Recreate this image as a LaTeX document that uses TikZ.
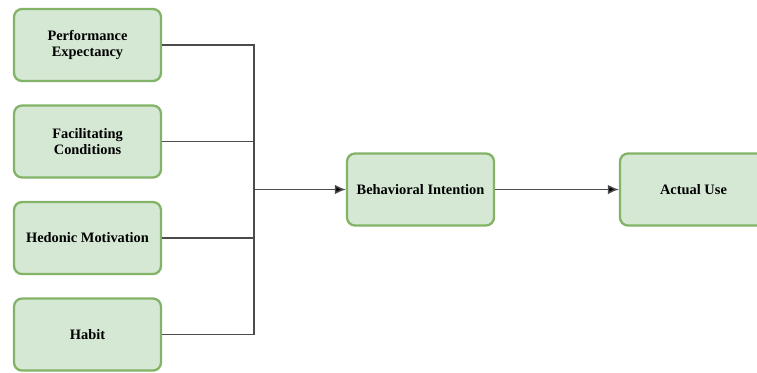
\documentclass[tikz,border=0pt]{standalone}
\usepackage{fontspec}
\setmainfont{Liberation Serif}
\usepackage[dvipsnames]{xcolor}
\usetikzlibrary{positioning, arrows, arrows.meta}

\definecolor{boxfill}{HTML}{D5E8D4}
\definecolor{boxline}{HTML}{82B366}

\begin{document}
\begin{tikzpicture}[x=0.02cm, y=-0.02cm]
	
	\tikzset{factor/.style={
			draw=boxline, fill=boxfill,
			line width=1.3pt,
			rounded corners=0.16cm,
			minimum width=2.94cm,
			minimum height=1.44cm,
			align=center,
			inner sep=0pt,
			font=\fontsize{8.2}{9.5}\selectfont\bfseries
		},
		link/.style={draw=black!70, line width=0.8pt},
		tip/.style={-{Latex[length=2.2mm, width=1.9mm, fill=black]}}
	}
	
	\useasboundingbox (0,0) rectangle (757,372);
	\clip (0,0) rectangle (757,372);
	
	\node[factor] (pe) at (87.5,45) {Performance\\Expectancy};
	\node[factor, below=0.445cm of pe] (fc) {Facilitating\\Conditions};
	\node[factor, below=0.445cm of fc] (hm) {Hedonic Motivation};
	\node[factor, below=0.445cm of hm] (hab) {Habit};
	
	\node[factor] (bi) at (420.5,189.5) {Behavioral Intention};
	\node[factor, right=2.475cm of bi] (au) {Actual Use};
	
	\coordinate (jn) at (254,189.5);
	
	\draw[link] (pe.east) -| (jn);
	\draw[link] (fc.east) -| (jn);
	\draw[link] (hm.east) -| (jn);
	\draw[link] (hab.east) -| (jn);
	\draw[link, tip] (jn) -- (bi);
	\draw[link, tip] (bi) -- (au);
	
\end{tikzpicture}
\end{document}
